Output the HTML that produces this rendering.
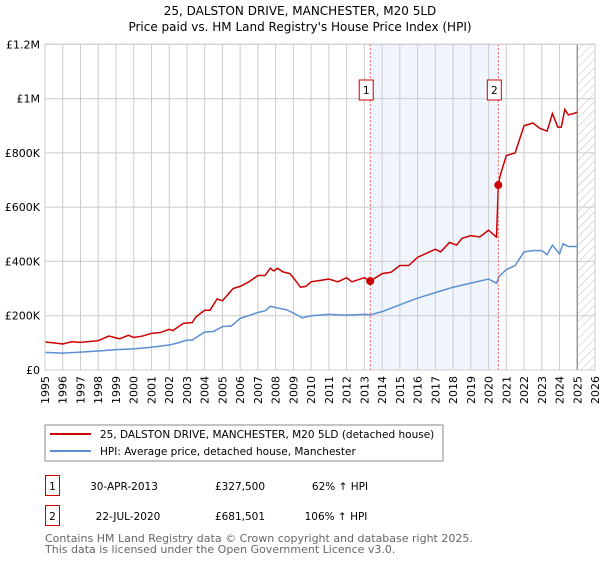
<!DOCTYPE html>
<html><head><meta charset="utf-8"><style>
body{margin:0;background:#fff;}
svg text{font-family:"DejaVu Sans","Liberation Sans",sans-serif;}
</style></head><body>
<svg id="chart" width="600" height="560" xmlns="http://www.w3.org/2000/svg">
<defs>
<pattern id="hatch" width="6" height="6" patternUnits="userSpaceOnUse" patternTransform="rotate(45)">
<line x1="0" y1="0" x2="0" y2="6" stroke="#bbb" stroke-width="1"/></pattern>
</defs>
<text x="300" y="15" text-anchor="middle" font-size="12">25, DALSTON DRIVE, MANCHESTER, M20 5LD</text>
<text x="300" y="31" text-anchor="middle" font-size="12">Price paid vs. HM Land Registry's House Price Index (HPI)</text>
<g id="grid"></g>
<g id="marks"></g>
<g id="axes"></g>
<rect x="45" y="425" width="398" height="36" fill="#fff" stroke="#888"/>
<line x1="50" y1="434" x2="91" y2="434" stroke="#cc0000" stroke-width="2"/>
<text x="100" y="438" font-size="10.5">25, DALSTON DRIVE, MANCHESTER, M20 5LD (detached house)</text>
<line x1="50" y1="451" x2="91" y2="451" stroke="#5b8fd4" stroke-width="2"/>
<text x="100" y="455" font-size="10.5">HPI: Average price, detached house, Manchester</text>
<g>
<rect x="45.5" y="475.5" width="14" height="20" fill="#fff" stroke="#cc0000"/>
<text x="52.5" y="490" font-size="10.5" text-anchor="middle">1</text>
<text x="124" y="490" font-size="10.5" text-anchor="middle">30-APR-2013</text>
<text x="240" y="490" font-size="10.5" text-anchor="middle">£327,500</text>
<text x="340" y="490" font-size="10.5" text-anchor="middle">62% ↑ HPI</text>
</g>
<g>
<rect x="45.5" y="505.5" width="14" height="20" fill="#fff" stroke="#cc0000"/>
<text x="52.5" y="520" font-size="10.5" text-anchor="middle">2</text>
<text x="128" y="520" font-size="10.5" text-anchor="middle">22-JUL-2020</text>
<text x="240" y="520" font-size="10.5" text-anchor="middle">£681,501</text>
<text x="336" y="520" font-size="10.5" text-anchor="middle">106% ↑ HPI</text>
</g>
<text x="45" y="542" font-size="11" fill="#666">Contains HM Land Registry data © Crown copyright and database right 2025.</text>
<text x="45" y="553" font-size="11" fill="#666">This data is licensed under the Open Government Licence v3.0.</text>
</svg>
<script>
const yTickValues=[0,200000,400000,600000,800000,1000000,1200000];
const yTickLabels=["£0","£200K","£400K","£600K","£800K","£1M","£1.2M"];
const xYears=[1995,1996,1997,1998,1999,2000,2001,2002,2003,2004,2005,2006,2007,2008,2009,2010,2011,2012,2013,2014,2015,2016,2017,2018,2019,2020,2021,2022,2023,2024,2025,2026];
const propT=[1995,1995.5,1996,1996.5,1997,1998,1998.6,1999.2,1999.7,2000,2000.5,2001,2001.5,2002,2002.2,2002.8,2003.3,2003.5,2004,2004.3,2004.7,2005,2005.6,2006,2006.5,2007,2007.4,2007.7,2007.9,2008.1,2008.4,2008.8,2009,2009.4,2009.7,2010,2011,2011.5,2012,2012.3,2013,2013.33,2014,2014.5,2015,2015.5,2016,2016.5,2017,2017.3,2017.8,2018.2,2018.5,2019,2019.5,2020,2020.35,2020.45,2020.55,2020.65,2021,2021.5,2022,2022.5,2022.9,2023.3,2023.6,2023.9,2024.1,2024.3,2024.5,2024.8,2025];
const propV=[103,100,96,104,102,108,125,115,128,120,125,135,138,150,145,172,175,195,220,220,262,255,300,308,325,348,348,375,365,375,362,355,340,305,308,325,335,325,340,325,340,327.5,355,360,385,385,415,430,445,435,470,460,485,495,490,515,495,490,681.5,715,790,800,900,910,890,880,945,895,895,960,940,945,950];
const hpiT=[1995,1996,1997,1998,1999,2000,2001,2002,2002.5,2003,2003.3,2004,2004.5,2005,2005.5,2006,2007,2007.4,2007.7,2008,2008.6,2009,2009.5,2010,2011,2012,2013,2013.33,2014,2015,2016,2017,2018,2019,2020,2020.45,2020.6,2021,2021.5,2022,2022.5,2023,2023.3,2023.6,2024,2024.2,2024.5,2025];
const hpiV=[65,62,66,70,75,78,84,92,100,110,110,140,142,160,162,190,212,218,235,230,222,210,192,200,205,202,205,203,215,240,265,285,305,320,335,320,345,370,385,435,440,440,425,460,428,465,455,455];
const sales=[[2013.33,327.5,"1"],[2020.55,681.5,"2"]];
const X0=45,X1=595,Y0=370,Y1=44.3;
const xs=t=>X0+(t-1995)/(2026-1995)*(X1-X0);
const ys=v=>Y0-v/1200000*(Y0-Y1);
const NS="http://www.w3.org/2000/svg";
function mk(tag,attrs,parent){const e=document.createElementNS(NS,tag);for(const k in attrs)e.setAttribute(k,attrs[k]);parent.appendChild(e);return e;}
const grid=document.getElementById('grid'),marks=document.getElementById('marks'),axes=document.getElementById('axes');
let r=mk('rect',{x:xs(sales[0][0]),y:Y1,width:xs(sales[1][0])-xs(sales[0][0]),height:Y0-Y1,fill:'#eef3fc',opacity:0.8},grid);


r=mk('rect',{x:xs(2025),y:Y1,width:X1-xs(2025),height:Y0-Y1,fill:'url(#hatch)'},grid);


xYears.forEach(y=>{const l=mk('line',{x1:xs(y),x2:xs(y),y1:Y1,y2:Y0,stroke:'#ccc'},grid);


const t=mk('text',{x:0,y:0,'font-size':11,'text-anchor':'end',transform:`translate(${xs(y)+4},${Y0+6}) rotate(-90)`},axes);
t.textContent=y;

});
yTickValues.forEach((v,i)=>{const l=mk('line',{x1:X0,x2:X1,y1:ys(v),y2:ys(v),stroke:'#ccc'},grid);


const t=mk('text',{x:40,y:ys(v)+4,'font-size':11,'text-anchor':'end'},axes);
t.textContent=yTickLabels[i];

});
let vl=mk('line',{x1:xs(2025),x2:xs(2025),y1:Y1,y2:Y0,stroke:'#999','stroke-width':1.5},grid);


const hp=mk('polyline',{points:hpiT.map((t,i)=>xs(t)+','+ys(hpiV[i]*1000)).join(' '),fill:'none',stroke:'#5b8fd4','stroke-width':1.5},marks);


const pp=mk('polyline',{points:propT.map((t,i)=>xs(t)+','+ys(propV[i]*1000)).join(' '),fill:'none',stroke:'#cc0000','stroke-width':1.5},marks);


sales.forEach(s=>{const l=mk('line',{x1:xs(s[0]),x2:xs(s[0]),y1:Y1,y2:Y0,stroke:'#e55','stroke-dasharray':'2,2'},marks);


const c=mk('circle',{cx:xs(s[0]),cy:ys(s[1]*1000),r:4,fill:'#cc0000'},marks);


const b=mk('rect',{x:xs(s[0])-11,y:80,width:14,height:20,fill:'#fff',stroke:'#cc0000'},marks);


const t=mk('text',{x:xs(s[0])-4,y:94,'font-size':10.5,'text-anchor':'middle'},marks);
t.textContent=s[2];

});
const bd=mk('rect',{x:X0,y:Y1,width:X1-X0,height:Y0-Y1,fill:'none',stroke:'#ccc'},axes);


</script>
</body></html>
